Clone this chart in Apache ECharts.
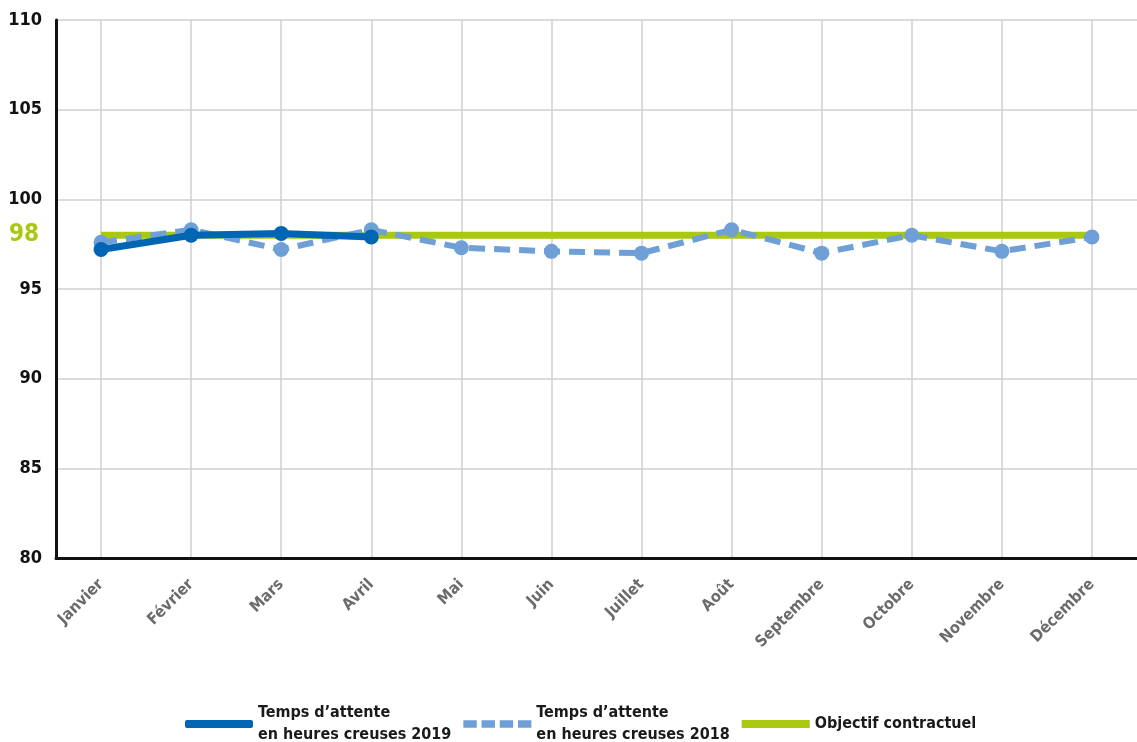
<!DOCTYPE html>
<html>
<head>
<meta charset="utf-8">
<script src="https://cdn.jsdelivr.net/npm/echarts@6/dist/echarts.min.js"></script>
<style>
  html, body { margin: 0; padding: 0; background: #fff; }
  #chart { width: 1137px; height: 742px; }
</style>
</head>
<body>
<div id="chart"></div>
<script>
const months = ['Janvier', 'Février', 'Mars', 'Avril', 'Mai', 'Juin', 'Juillet', 'Août', 'Septembre', 'Octobre', 'Novembre', 'Décembre']
const wait2019 = [97.2, 98.0, 98.1, 97.9]
const wait2018 = [97.6, 98.3, 97.2, 98.3, 97.3, 97.1, 97.0, 98.3, 97.0, 98.0, 97.1, 97.9]
const objective = [98, 98, 98, 98, 98, 98, 98, 98, 98, 98, 98, 98]
const objectiveLabel = 98
const name2019 = 'Temps d’attente\nen heures creuses 2019'
const name2018 = 'Temps d’attente\nen heures creuses 2018'
const nameObj = 'Objectif contractuel'

const font = "'DejaVu Sans Condensed', 'Liberation Sans Narrow', Roboto, sans-serif"
const dashIcon = 'path://M0,0h14v8h-14z M19,0h14v8h-14z M38,0h14v8h-14z M57,0h14v8h-14z'

const chart = echarts.init(document.getElementById('chart'))
chart.setOption({
  animation: false,
  grid: { left: 56, right: 0, top: 20, bottom: 184 },
  legend: {
    top: 697,
    left: 180,
    itemWidth: 68,
    itemHeight: 8,
    itemGap: 12,
    textStyle: { fontFamily: font, fontWeight: 'bold', fontSize: 16, color: '#1a1a1a', lineHeight: 22 },
    data: [
      { name: name2019, icon: 'roundRect', itemStyle: { color: '#0066b3' } },
      { name: name2018, icon: dashIcon, itemStyle: { color: '#6e9fd6' } },
      { name: nameObj, icon: 'rect', itemStyle: { color: '#a9c80f' } },
    ],
  },
  xAxis: {
    type: 'category',
    data: months,
    boundaryGap: true,
    axisLine: { lineStyle: { color: '#111', width: 3 } },
    axisTick: { show: false },
    axisLabel: {
      interval: 0,
      rotate: 45,
      margin: 24,
      fontFamily: font,
      fontWeight: 'bold',
      fontSize: 16,
      color: '#6b6b6b',
    },
    splitLine: { show: true, alignWithLabel: true, lineStyle: { color: '#cfcfcf', width: 1.5 } },
  },
  yAxis: {
    type: 'value',
    min: 80,
    max: 110,
    interval: 5,
    axisLine: { show: true, lineStyle: { color: '#111', width: 3 } },
    axisTick: { show: false },
    axisLabel: { fontFamily: font, fontWeight: 'bold', fontSize: 18, color: '#111', margin: 14 },
    splitLine: { show: true, lineStyle: { color: '#cfcfcf', width: 1.5 } },
  },
  series: [
    {
      name: nameObj,
      type: 'line',
      data: objective,
      symbol: 'none',
      z: 1,
      lineStyle: { color: '#a9c80f', width: 7 },
      itemStyle: { color: '#a9c80f' },
      markLine: {
        silent: true,
        symbol: 'none',
        lineStyle: { color: 'rgba(0,0,0,0)', width: 0 },
        label: {
          show: true,
          position: 'start',
          distance: 17,
          formatter: String(objectiveLabel),
          fontFamily: font,
          fontWeight: 'bold',
          fontSize: 24,
          color: '#a9c80f',
        },
        data: [{ yAxis: objectiveLabel }],
      },
    },
    {
      name: name2018,
      type: 'line',
      data: wait2018,
      symbol: 'circle',
      symbolSize: 15,
      z: 2,
      lineStyle: { color: '#6e9fd6', width: 6, type: [16, 9] },
      itemStyle: { color: '#6e9fd6' },
    },
    {
      name: name2019,
      type: 'line',
      data: wait2019,
      symbol: 'circle',
      symbolSize: 15,
      z: 3,
      lineStyle: { color: '#0066b3', width: 7 },
      itemStyle: { color: '#0066b3' },
    },
  ],
})
</script>
</body>
</html>
